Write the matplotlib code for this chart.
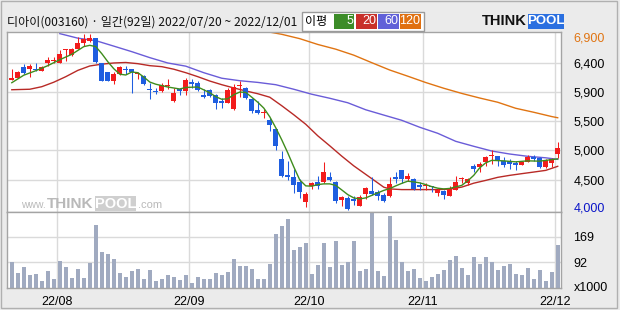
import matplotlib
matplotlib.use('Agg')
import matplotlib.pyplot as plt
from matplotlib.patches import Rectangle

# 디아이(003160) 일봉, 2022/07/20 ~ 2022/12/01 (92일)
opens = [6115, 6147, 6336, 6292, 6299, 6260, 6400, 6424, 6400, 6601,
         6521, 6617, 6714, 6746, 6798, 6389, 6255, 6110, 6215, 6303,
         6299, 6215, 6183, 5981, 5941, 5938, 6025, 5783, 5981, 5938,
         6089, 6078, 5874, 5954, 5874, 5783, 5756, 5659, 6019, 5997,
         5809, 5638, 5590, 5478, 5337, 4854, 4597, 4570, 4489, 4167,
         4425, 4484, 4479, 4565, 4484, 4199, 4227, 4215, 4103, 4291,
         4334, 4318, 4280, 4264, 4565, 4672, 4537, 4532, 4441, 4425,
         4415, 4307, 4344, 4254, 4360, 4532, 4468, 4737, 4726, 4806,
         4898, 4898, 4827, 4817, 4790, 4763, 4806, 4887, 4870, 4726,
         4790, 4940]
highs = [6303, 6266, 6379, 6379, 6395, 6352, 6492, 6492, 6609, 6621,
         6637, 6811, 6859, 6856, 6802, 6400, 6255, 6255, 6352, 6347,
         6303, 6250, 6199, 6078, 5997, 6067, 6131, 5997, 5997, 6158,
         6131, 6105, 5981, 5970, 5890, 5836, 5997, 6051, 6105, 6009,
         5836, 5783, 5659, 5515, 5354, 4978, 4822, 4693, 4528, 4328,
         4484, 4576, 4801, 4645, 4495, 4254, 4254, 4254, 4280, 4404,
         4565, 4350, 4307, 4565, 4640, 4672, 4629, 4548, 4479, 4468,
         4425, 4388, 4360, 4425, 4576, 4565, 4548, 4774, 4806, 4908,
         4995, 4908, 4887, 4854, 4817, 4801, 4924, 4924, 4887, 4854,
         4870, 5123]
lows = [6115, 6147, 6215, 6170, 6271, 6260, 6347, 6400, 6389, 6421,
        6513, 6614, 6674, 6738, 6389, 6099, 6099, 6054, 6207, 6215,
        5909, 6142, 6046, 5809, 5890, 5928, 5970, 5767, 5874, 5874,
        5997, 5944, 5832, 5848, 5648, 5676, 5748, 5638, 5848, 5809,
        5595, 5568, 5515, 5300, 5004, 4565, 4510, 4312, 4231, 4086,
        4376, 4371, 4468, 4505, 4146, 4103, 4028, 4119, 4093, 4215,
        4280, 4199, 4157, 4243, 4468, 4468, 4505, 4360, 4360, 4360,
        4323, 4254, 4210, 4254, 4360, 4468, 4441, 4640, 4640, 4737,
        4764, 4747, 4721, 4693, 4683, 4763, 4806, 4827, 4710, 4710,
        4726, 4870]
closes = [6158, 6255, 6239, 6352, 6276, 6336, 6443, 6448, 6540, 6621,
          6625, 6722, 6778, 6798, 6416, 6110, 6110, 6223, 6331, 6279,
          6250, 6231, 6054, 5960, 5928, 6035, 6041, 5917, 5938, 6115,
          6051, 5954, 5848, 5864, 5745, 5745, 5954, 6014, 6030, 5825,
          5622, 5595, 5600, 5391, 5059, 4585, 4570, 4436, 4328, 4291,
          4468, 4415, 4640, 4521, 4183, 4238, 4049, 4183, 4243, 4388,
          4296, 4264, 4173, 4457, 4537, 4537, 4585, 4371, 4404, 4441,
          4399, 4360, 4280, 4376, 4484, 4544, 4537, 4693, 4774, 4887,
          4903, 4817, 4763, 4774, 4763, 4801, 4887, 4854, 4726, 4834,
          4844, 5032]
# 거래량 (천주)
volumes = [93, 59, 78, 53, 56, 35, 65, 41, 96, 78,
           44, 71, 44, 90, 204, 124, 118, 102, 59, 47,
           65, 71, 41, 68, 35, 41, 53, 47, 38, 53,
           31, 47, 41, 41, 59, 53, 62, 102, 81, 81,
           71, 41, 41, 87, 179, 201, 222, 130, 139, 152,
           56, 84, 152, 78, 158, 84, 93, 158, 65, 71,
           245, 65, 50, 232, 161, 93, 65, 71, 44, 35,
           47, 56, 68, 99, 112, 75, 53, 108, 87, 108,
           93, 68, 81, 87, 56, 53, 75, 41, 68, 35,
           62, 145]

# 이동평균선
ma5_x = [0, 2, 4, 6, 8, 10, 12, 13, 14, 15, 16, 17, 18, 19, 20, 21, 22, 23, 24,
         26, 28, 29, 31, 33, 34, 35, 36, 37, 38, 39, 40, 41, 42, 43, 44, 45, 46,
         47, 48, 49, 50, 51, 52, 53, 54, 55, 56, 57, 58, 59, 60, 61, 62, 63, 64,
         65, 66, 67, 68, 69, 70, 71, 72, 73, 74, 75, 76, 77, 78, 79, 80, 82, 84,
         86, 88, 90, 91]
ma5_y = [6078, 6199, 6271, 6352, 6448, 6534, 6658, 6679, 6658, 6545, 6416, 6303,
         6215, 6202, 6250, 6239, 6170, 6089, 6054, 6009, 5977, 6002, 6009, 5917,
         5853, 5812, 5820, 5885, 5928, 5922, 5845, 5764, 5671, 5531, 5354, 5160,
         4951, 4726, 4516, 4420, 4415, 4441, 4452, 4452, 4428, 4355, 4280, 4227,
         4210, 4227, 4267, 4307, 4347, 4376, 4420, 4460, 4495, 4484, 4468, 4441,
         4408, 4383, 4371, 4379, 4404, 4428, 4500, 4589, 4710, 4790, 4830, 4822,
         4806, 4822, 4817, 4842, 4854]
ma20_x = [0, 3, 5, 7, 9, 11, 13, 15, 17, 19, 21, 23, 25, 27, 29, 31, 33, 35, 37,
          39, 41, 43, 45, 47, 49, 51, 53, 55, 57, 59, 61, 62, 63, 65, 67, 69, 71,
          73, 75, 77, 79, 81, 83, 85, 87, 89, 91]
ma20_y = [5965, 5973, 6014, 6086, 6175, 6276, 6347, 6376, 6395, 6403, 6384, 6352,
          6336, 6295, 6239, 6175, 6105, 6046, 5994, 5946, 5901, 5845, 5708, 5563,
          5410, 5225, 5064, 4898, 4742, 4605, 4468, 4399, 4371, 4360, 4360, 4360,
          4360, 4368, 4400, 4463, 4508, 4557, 4589, 4616, 4642, 4669, 4734]
ma60_x = [8, 11, 14, 17, 20, 23, 26, 29, 32, 35, 38, 41, 44, 47, 50, 53, 56, 59,
          62, 65, 68, 71, 74, 77, 80, 83, 86, 89, 91]
ma60_y = [6867, 6794, 6754, 6666, 6577, 6481, 6395, 6344, 6239, 6150, 6110, 6083,
          6046, 5973, 5893, 5828, 5756, 5643, 5558, 5474, 5362, 5265, 5136, 5056,
          4980, 4932, 4895, 4871, 4846]
ma120_x = [43, 45, 48, 51, 54, 57, 60, 63, 66, 69, 72, 75, 78, 81, 84, 87, 90, 91]
ma120_y = [6891, 6856, 6786, 6693, 6617, 6521, 6400, 6282, 6183, 6081, 5989, 5906,
           5832, 5764, 5667, 5603, 5534, 5515]

month_pos = [7.5, 29.5, 49.5, 68.5, 90.5]
month_labels = ['22/08', '22/09', '22/10', '22/11', '22/12']
price_grid = [6400, 5930, 5460, 4990, 4520]
price_ticks = [6819, 6400, 5930, 5460, 4990, 4520, 4082]
price_labels = ['6,900', '6,400', '5,900', '5,500', '5,000', '4,500', '4,000']
vol_grid = [169, 92]
vol_ticks = [169, 92, 20]
vol_labels = ['169', '92', 'x1000']

plt.rcParams['font.family'] = ['Liberation Sans', 'Noto Sans CJK KR', 'DejaVu Sans']

W, H = 620, 310
UP, DOWN = '#f21c1c', '#1f5ee0'
GRID = '#dadada'
EDGE = '#a4a4a4'


def px_box(x0, y0, x1, y1):
    # 픽셀 좌표 -> figure 비율
    return [x0 / W, 1 - y1 / H, (x1 - x0) / W, (y1 - y0) / H]


fig = plt.figure(figsize=(6.2, 3.1), dpi=100, facecolor='#ebebeb')
fig.patches.append(Rectangle((1 / W, 2 / H), 616 / W, 307 / H, transform=fig.transFigure,
                             fill=False, edgecolor='#b0b0b0', lw=1))

ax = fig.add_axes(px_box(7, 32, 561, 212))
axv = fig.add_axes(px_box(7, 212, 561, 288), sharex=ax)

x = list(range(len(closes)))
colors = [UP if c >= o else DOWN for o, c in zip(opens, closes)]
bottoms = [min(o, c) for o, c in zip(opens, closes)]
heights = [max(abs(c - o), 16) for o, c in zip(opens, closes)]

# 캔들
ax.vlines(x, lows, highs, colors=colors, lw=0.75, zorder=3)
ax.bar(x, heights, bottom=bottoms, width=0.78, color=colors, lw=0, zorder=4)

# 이평선
ax.plot(ma120_x, ma120_y, color='#e07412', lw=1, zorder=2)
ax.plot(ma60_x, ma60_y, color='#6a5cd8', lw=1, zorder=2)
ax.plot(ma20_x, ma20_y, color='#b82a26', lw=1, zorder=2)
ax.plot(ma5_x, ma5_y, color='#3f8c1c', lw=1, zorder=5)

for g in price_grid:
    ax.axhline(g, color=GRID, lw=1, zorder=0)
for m in month_pos:
    ax.axvline(m, color=GRID, lw=1, zorder=0)
    axv.axvline(m, color=GRID, lw=1, zorder=0)
for g in vol_grid:
    axv.axhline(g, color=GRID, lw=1, zorder=0)

# 거래량
axv.bar(x, volumes, width=0.72, color='#a0aac0', lw=0, zorder=2)

ax.set_xlim(-0.8, 91.55)
ax.set_ylim(4000, 6893)
axv.set_ylim(15, 244)

for a in (ax, axv):
    a.set_facecolor('white')
    for s in a.spines.values():
        s.set_color(EDGE)
        s.set_linewidth(1)
    a.yaxis.tick_right()

ax.set_yticks(price_ticks)
ax.set_yticklabels(price_labels)
ax.tick_params(axis='y', length=0, pad=9, labelsize=9)
ax.tick_params(axis='x', length=0, labelbottom=False)
ax.get_yticklabels()[0].set_color('#e07412')
ax.get_yticklabels()[-1].set_color('#0a14c8')

axv.set_yticks(vol_ticks)
axv.set_yticklabels(vol_labels)
axv.tick_params(axis='y', length=0, pad=9, labelsize=9)
axv.set_xticks(month_pos)
axv.set_xticklabels(month_labels)
axv.tick_params(axis='x', length=0, pad=6, labelsize=9)

# 제목
fig.text(7 / W, 1 - 22 / H, '디아이(003160) · 일간(92일) 2022/07/20 ~ 2022/12/01',
         fontsize=8.7, va='center', ha='left', color='#111111',
         family=['Noto Sans CJK KR', 'DejaVu Sans'])

# 이평 범례
fig.patches.append(Rectangle((302 / W, 1 - 31 / H), 122 / W, 19 / H,
                             transform=fig.transFigure, facecolor='white',
                             edgecolor='#9a9a9a', lw=1))
fig.text(305 / W, 1 - 21.5 / H, '이평', fontsize=8.7, va='center', ha='left',
         family=['Noto Sans CJK KR', 'DejaVu Sans'])
for (x0, x1), lab, col in zip([(334, 354), (356, 377), (378, 399), (400, 421)],
                              ['5', '20', '60', '120'],
                              ['#3c8c28', '#c8302a', '#6060d8', '#e07010']):
    fig.patches.append(Rectangle((x0 / W, 1 - 29 / H), (x1 - x0) / W, 15 / H,
                                 transform=fig.transFigure, facecolor=col, lw=0))
    fig.text((x1 - 1) / W, 1 - 21.5 / H, lab, fontsize=9, va='center', ha='right', color='white')

# 로고
fig.text(482 / W, 1 - 21 / H, 'THINK', fontsize=10.5, fontweight='bold', va='center',
         ha='left', color='#111111')
fig.patches.append(Rectangle((528 / W, 1 - 28.5 / H), 36 / W, 15 / H,
                             transform=fig.transFigure, facecolor='#2a6fe0', lw=0))
fig.text(546 / W, 1 - 21 / H, 'POOL', fontsize=9.5, fontweight='bold', va='center',
         ha='center', color='white')

# 워터마크
wm = '#b9b9b9'
fig.text(46 / W, 1 - 205 / H, 'www.', fontsize=7.5, va='center', ha='right', color=wm)
fig.text(47 / W, 1 - 203.5 / H, 'THINK', fontsize=11, fontweight='bold', va='center',
         ha='left', color=wm)
fig.patches.append(Rectangle((95 / W, 1 - 211 / H), 41 / W, 15 / H,
                             transform=fig.transFigure, facecolor='#cfcfcf', lw=0, zorder=2))
fig.text(115.5 / W, 1 - 203.5 / H, 'POOL', fontsize=10.5, fontweight='bold', va='center',
         ha='center', color='white')
fig.text(138 / W, 1 - 205 / H, '.com', fontsize=8, va='center', ha='left', color=wm)

fig.savefig('out.png', dpi=100, facecolor=fig.get_facecolor())
